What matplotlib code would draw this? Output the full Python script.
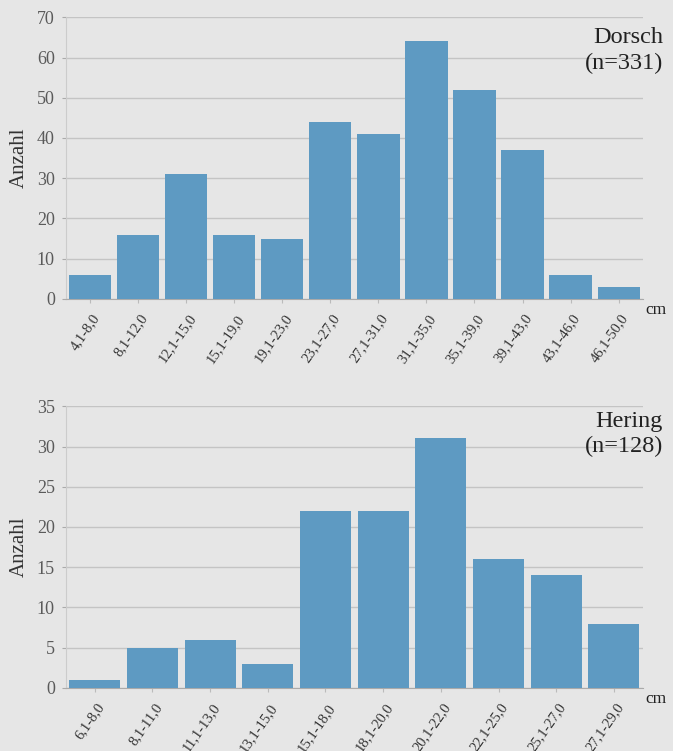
import matplotlib.pyplot as plt
from matplotlib.transforms import ScaledTranslation

# Längenklassen und Häufigkeiten
dorsch_klassen = ["4,1-8,0", "8,1-12,0", "12,1-15,0", "15,1-19,0", "19,1-23,0",
                  "23,1-27,0", "27,1-31,0", "31,1-35,0", "35,1-39,0", "39,1-43,0",
                  "43,1-46,0", "46,1-50,0"]
dorsch_anzahl = [6, 16, 31, 16, 15, 44, 41, 64, 52, 37, 6, 3]

hering_klassen = ["6,1-8,0", "8,1-11,0", "11,1-13,0", "13,1-15,0", "15,1-18,0",
                  "18,1-20,0", "20,1-22,0", "22,1-25,0", "25,1-27,0", "27,1-29,0"]
hering_anzahl = [1, 5, 6, 3, 22, 22, 31, 16, 14, 8]

BG = "#e6e6e6"
BAR = "#5e9ac2"
GRID = "#c4c4c4"
TXT = "#5a5a5a"

plt.rcParams["font.family"] = ["Liberation Serif", "DejaVu Serif"]

fig = plt.figure(figsize=(6.73, 7.51), dpi=100, facecolor=BG)


def panel(rect, klassen, werte, ymax, ystep, titel, titel_y):
    ax = fig.add_axes(rect, facecolor=BG)
    x = list(range(len(klassen)))
    ax.bar(x, werte, width=0.88, color=BAR, zorder=3)
    ax.set_xlim(-0.5, len(klassen) - 0.5)
    ax.set_ylim(0, ymax)
    ax.set_yticks(range(0, ymax + 1, ystep))
    ax.yaxis.grid(True, color=GRID, lw=1.0, zorder=0)
    ax.set_xticks(x)
    ax.set_xticklabels([])
    # schräge Klassenbeschriftung, etwas rechts unter dem Tick
    off = ax.get_xaxis_transform() + ScaledTranslation(5 / 72, -12 / 72,
                                                       fig.dpi_scale_trans)
    for xi, lab in zip(x, klassen):
        ax.text(xi, 0, lab, transform=off, rotation=55, ha="right", va="center",
                rotation_mode="anchor", fontsize=10.5, color="#333333")
    ax.tick_params(axis="y", labelsize=13, colors=TXT, length=3, color="#aaaaaa", pad=5)
    ax.tick_params(axis="x", length=3, color="#bbbbbb")
    for s in ("top", "right"):
        ax.spines[s].set_visible(False)
    ax.spines["left"].set_color("#cccccc")
    ax.spines["bottom"].set_color("#aaaaaa")
    ax.set_ylabel("Anzahl", fontsize=15, color="#333333", labelpad=6)
    ax.text(1.005, -0.04, "cm", transform=ax.transAxes, fontsize=12.5,
            color="#222222", va="center", ha="left")
    ax.text(1.035, titel_y, titel, transform=ax.transAxes, fontsize=17.5,
            color="#222222", ha="right", va="top", linespacing=1.3)
    return ax


panel([0.098, 0.602, 0.857, 0.375], dorsch_klassen, dorsch_anzahl, 70, 10,
      "Dorsch\n(n=331)", 0.965)
panel([0.098, 0.084, 0.857, 0.375], hering_klassen, hering_anzahl, 35, 5,
      "Hering\n(n=128)", 0.985)

fig.savefig("out.png", dpi=100, facecolor=BG)
